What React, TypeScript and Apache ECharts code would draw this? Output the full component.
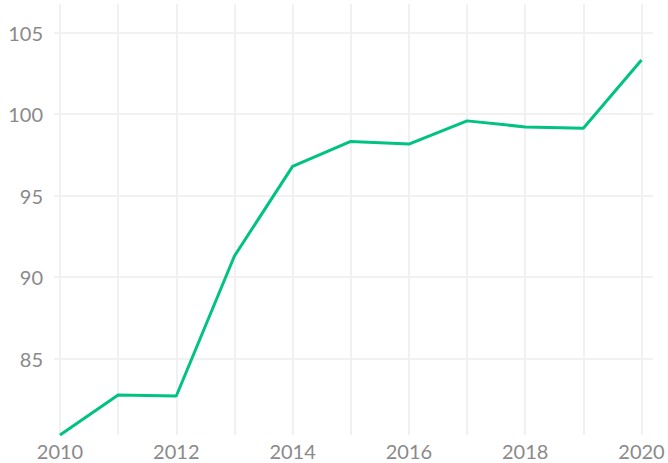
import React, { useEffect, useRef } from "react";
import * as echarts from "echarts";

const years = [2010, 2011, 2012, 2013, 2014, 2015, 2016, 2017, 2018, 2019, 2020];
const values = [80.32, 82.77, 82.71, 91.3, 96.8, 98.33, 98.17, 99.59, 99.22, 99.14, 103.33];
const yTickMin = 80;
const yTickMax = 105;
const yTickStep = 5;
const yDataMin = 80.32;
const yDataMax = 106.76;

const FONT = "Lato, 'Open Sans', sans-serif";
const GRID_COLOR = "#f1f1f1";
const LABEL_COLOR = "#8a8a8a";

export default function App() {
  const ref = useRef<HTMLDivElement>(null);
  useEffect(() => {
    if (!ref.current) return;
    const chart = echarts.init(ref.current, null, { renderer: "svg" });
    chart.setOption({
      animation: false,
      backgroundColor: "#ffffff",
      grid: [
        { left: 54, right: 15, top: 32.7, bottom: 22.8, containLabel: false },
        { left: 60, right: 26.5, top: 4, bottom: 28, containLabel: false },
      ],
      xAxis: [
        { type: "value", gridIndex: 0, show: false, min: 0, max: 1 },
        {
          type: "value",
          gridIndex: 1,
          min: years[0],
          max: years[years.length - 1],
          interval: 1,
          axisLine: { show: false },
          axisTick: { show: false },
          splitLine: { show: true, lineStyle: { color: GRID_COLOR, width: 2 } },
          axisLabel: {
            margin: 6,
            color: LABEL_COLOR,
            fontFamily: FONT,
            fontSize: 20,
            formatter: (v: number) => (v % 2 === 0 ? String(v) : ""),
          },
        },
      ],
      yAxis: [
        {
          type: "value",
          gridIndex: 0,
          min: yTickMin,
          max: yTickMax,
          interval: yTickStep,
          axisLine: { show: false },
          axisTick: { show: false },
          splitLine: {
            show: true,
            showMinLine: false,
            showMaxLine: true,
            lineStyle: { color: GRID_COLOR, width: 2 },
          },
          axisLabel: {
            showMinLabel: false,
            showMaxLabel: true,
            margin: 11,
            color: LABEL_COLOR,
            fontFamily: FONT,
            fontSize: 20,
          },
        },
        {
          type: "value",
          gridIndex: 1,
          min: yDataMin,
          max: yDataMax,
          show: false,
          splitLine: { show: false },
        },
      ],
      series: [
        {
          type: "line",
          xAxisIndex: 1,
          yAxisIndex: 1,
          data: years.map((y, i) => [y, values[i]]),
          showSymbol: false,
          symbol: "none",
          lineStyle: { color: "#00c283", width: 3 },
        },
      ],
    });
    return () => chart.dispose();
  }, []);
  return <div ref={ref} style={{ width: 668, height: 463, position: "absolute", left: 0, top: 0 }} />;
}
